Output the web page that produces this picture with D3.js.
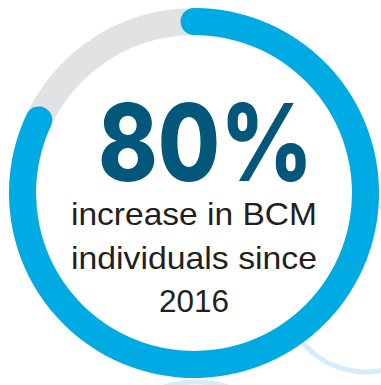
<!DOCTYPE html>
<html>
<head>
<meta charset="utf-8">
<script src="https://cdn.jsdelivr.net/npm/d3@7"></script>
<style>
  html, body { margin: 0; padding: 0; background: #fff; }
  svg { display: block; }
</style>
</head>
<body>
<div id="chart"></div>
<script>
// ring shares (blue part vs grey rest)
var ringParts = ["increase", "rest"];
var ringShares = [82, 18];
var headline = ["80%"];
var captionLines = ["increase in BCM", "individuals since", "2016"];

var width = 381,
    height = 385,
    cx = 194,
    cy = 193,
    outerR = 185,
    innerR = 158,
    midR = (outerR + innerR) / 2,
    capAngle = (outerR - innerR) / 2 / midR;

var svg = d3.select("#chart").append("svg")
    .attr("width", width)
    .attr("height", height);

// faint background swirls
var deco = svg.append("g").attr("fill", "none").attr("stroke", "#d4edf9").attr("stroke-width", 5);
deco.append("circle").attr("cx", 366).attr("cy", 289).attr("r", 83);
deco.append("circle").attr("cx", 196).attr("cy", 486).attr("r", 104);

var g = svg.append("g").attr("transform", "translate(" + cx + "," + cy + ")");

// white disc so the swirls stay behind the ring
g.append("circle").attr("r", outerR).attr("fill", "#fff");

var angle = d3.scaleLinear()
    .domain([0, d3.sum(ringShares)])
    .range([0, 2 * Math.PI]);

var pie = d3.pie().sort(null).value(function (d) { return d; })
    .startAngle(angle(0)).endAngle(angle(d3.sum(ringShares)));
var slices = pie(ringShares);

var ringArc = d3.arc().innerRadius(innerR).outerRadius(outerR);

// grey track is the full ring
g.append("path")
    .attr("d", ringArc({ startAngle: 0, endAngle: 2 * Math.PI }))
    .attr("fill", "#e1e2e4");

// blue share with rounded ends
var blueArc = d3.arc().innerRadius(innerR).outerRadius(outerR).cornerRadius((outerR - innerR) / 2);
g.selectAll("path.share")
    .data(slices.filter(function (d, i) { return ringParts[i] === "increase"; }))
    .enter().append("path")
    .attr("class", "share")
    .attr("d", function (d) {
        return blueArc({ startAngle: d.startAngle - capAngle, endAngle: d.endAngle + capAngle });
    })
    .attr("fill", "#00aae3");

// headline
svg.selectAll("text.head")
    .data(headline)
    .enter().append("text")
    .attr("class", "head")
    .attr("x", 205.5)
    .attr("y", 181)
    .attr("text-anchor", "middle")
    .attr("font-family", "Inter, 'DejaVu Sans', sans-serif")
    .attr("font-weight", 800)
    .attr("font-size", 107)
    .attr("textLength", 215)
    .attr("lengthAdjust", "spacingAndGlyphs")
    .attr("fill", "#03577a")
    .text(function (d) { return d; });

// caption
var capWidths = [246, 246, 70];
svg.selectAll("text.cap")
    .data(captionLines)
    .enter().append("text")
    .attr("class", "cap")
    .attr("x", 194)
    .attr("y", function (d, i) { return 225 + i * 43.5; })
    .attr("text-anchor", "middle")
    .attr("font-family", "'Liberation Sans', Arial, sans-serif")
    .attr("font-size", 32)
    .attr("textLength", function (d, i) { return capWidths[i]; })
    .attr("lengthAdjust", "spacingAndGlyphs")
    .attr("fill", "#231f20")
    .text(function (d) { return d; });
</script>
</body>
</html>
